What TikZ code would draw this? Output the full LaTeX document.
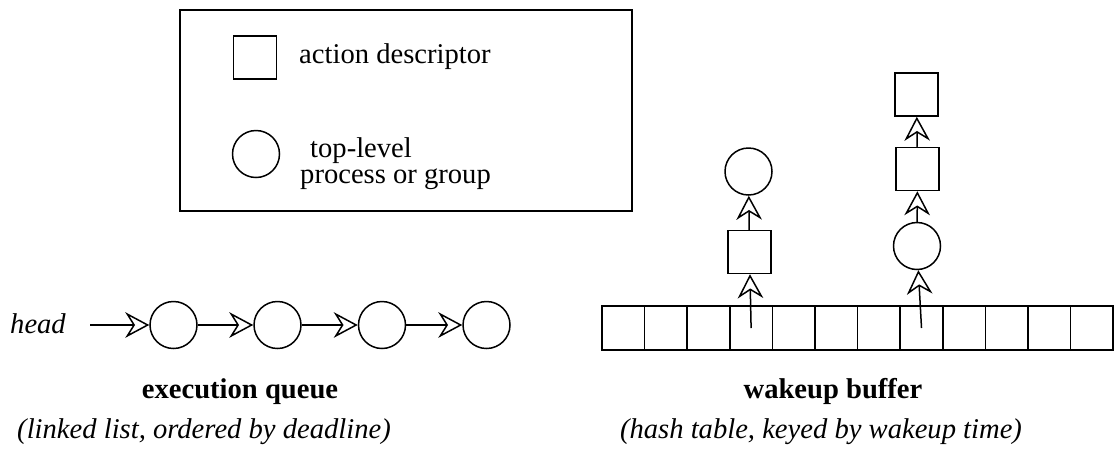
\documentclass[tikz,border=0pt]{standalone}
\usepackage{fontspec}
\setmainfont{Liberation Serif}
\usetikzlibrary{arrows.meta}
\begin{document}
\begin{tikzpicture}[x=1pt,y=-1pt,
  every node/.style={font=\fontsize{28.6}{26}\selectfont},
  ln/.style={line width=1.5pt},
  sq/.style={ln,draw,rectangle,minimum size=43pt,inner sep=0pt},
  rnd/.style={ln,draw,circle,minimum size=47pt,inner sep=0pt},
  cell/.style={ln,draw,rectangle,minimum width=42.6pt,minimum height=44pt,inner sep=0pt},
  lbl/.style={anchor=base,inner sep=0pt},
  link/.style={ln,-{Stealth[open,length=15pt,width=16pt,inset=5pt,scale=1.6]}}]
\useasboundingbox (0,0) rectangle (1115,456);

% legend
\node[ln,draw,rectangle,minimum width=452pt,minimum height=201pt,inner sep=0pt] (legend) at (406,110.5) {};
\node[sq] (keysq) at (255,57.5) {};
\node[rnd] (keyci) at (256,154) {};
\node[lbl,anchor=base west] (keysqt) at (299,63) {action descriptor};
\node[lbl,anchor=base west] (keycit1) at (310,157) {top-level};
\node[lbl,anchor=base west] (keycit2) at (300,183) {process or group};

% execution queue
\node[lbl,anchor=base west] (head) at (10,333) {\itshape head};
\coordinate (hstart) at (90,325);
\node[rnd] (q1) at (173.5,325) {};
\node[rnd] (q2) at (277.5,325) {};
\node[rnd] (q3) at (382,325) {};
\node[rnd] (q4) at (486.5,325) {};
\draw[link] (hstart) -- (q1);
\draw[link] (q1) -- (q2);
\draw[link] (q2) -- (q3);
\draw[link] (q3) -- (q4);
\node[lbl] (eqt) at (240,398) {\bfseries execution queue};
\node[lbl] (eqs) at (204,438) {\itshape (linked list, ordered by deadline)};

% wakeup buffer
\foreach \i in {1,...,12}
  \node[cell] (c\i) at ({602+42.6*(\i-0.5)},328) {};
\node[sq] (a1) at (749.5,252) {};
\node[rnd] (p1) at (748.5,171.5) {};
\draw[link] (c4.center) -- (a1);
\draw[link] (a1) -- (p1);
\node[rnd] (p2) at (917,246) {};
\node[sq] (a2) at (917.5,169) {};
\node[sq] (a3) at (916.5,94.5) {};
\draw[link] (c8.center) -- (p2);
\draw[link] (p2) -- (a2);
\draw[link] (a2) -- (a3);
\node[lbl] (wbt) at (833,398) {\bfseries wakeup buffer};
\node[lbl] (wbs) at (821,438) {\itshape (hash table, keyed by wakeup time)};
\end{tikzpicture}
\end{document}
